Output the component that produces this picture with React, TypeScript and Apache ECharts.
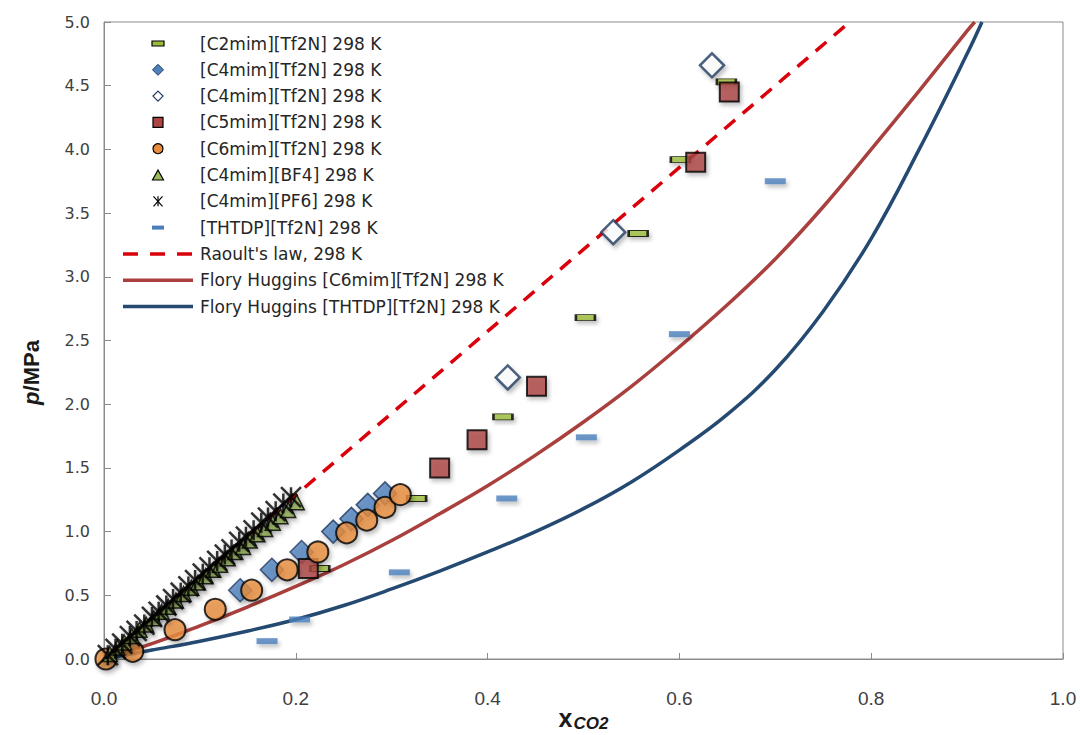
import React, { useEffect, useRef } from "react";
import * as echarts from "echarts";

// ---- measured solubility data (x = CO2 mole fraction, p in MPa) ----
const c2mimX = [0.225, 0.326, 0.416, 0.502, 0.557, 0.601, 0.649];
const c2mimP = [0.71, 1.26, 1.9, 2.68, 3.34, 3.92, 4.53];

const c4mimTf2nX = [0.142, 0.175, 0.206, 0.239, 0.258, 0.275, 0.293];
const c4mimTf2nP = [0.54, 0.7, 0.84, 1.0, 1.1, 1.21, 1.3];

const c4mimTf2nOpenX = [0.421, 0.531, 0.634];
const c4mimTf2nOpenP = [2.21, 3.35, 4.66];

const c5mimX = [0.213, 0.35, 0.389, 0.451, 0.617, 0.652];
const c5mimP = [0.71, 1.5, 1.72, 2.14, 3.9, 4.45];

const c6mimX = [0.002, 0.03, 0.074, 0.116, 0.154, 0.191, 0.223, 0.253, 0.274, 0.293, 0.309];
const c6mimP = [0.0, 0.06, 0.23, 0.39, 0.54, 0.7, 0.84, 0.99, 1.09, 1.19, 1.29];

const bf4X = [0.006, 0.014, 0.021, 0.029, 0.037, 0.044, 0.052, 0.06, 0.067, 0.075, 0.083, 0.091, 0.098, 0.106, 0.114, 0.121, 0.129, 0.137, 0.145, 0.152, 0.16, 0.168, 0.176, 0.184, 0.192, 0.201];
const bf4P = [0.04, 0.09, 0.13, 0.18, 0.23, 0.27, 0.32, 0.37, 0.41, 0.46, 0.51, 0.56, 0.6, 0.65, 0.7, 0.74, 0.79, 0.84, 0.88, 0.93, 0.98, 1.02, 1.07, 1.12, 1.17, 1.23];

const pf6X = [0.004, 0.012, 0.019, 0.027, 0.034, 0.042, 0.05, 0.057, 0.065, 0.072, 0.08, 0.088, 0.095, 0.103, 0.11, 0.118, 0.126, 0.133, 0.141, 0.148, 0.156, 0.164, 0.171, 0.179, 0.187, 0.195];
const pf6P = [0.03, 0.08, 0.12, 0.18, 0.22, 0.27, 0.33, 0.37, 0.42, 0.47, 0.52, 0.57, 0.62, 0.67, 0.72, 0.77, 0.82, 0.86, 0.92, 0.96, 1.01, 1.07, 1.11, 1.16, 1.22, 1.27];

const thtdpX = [0.17, 0.204, 0.308, 0.42, 0.503, 0.6, 0.7];
const thtdpP = [0.14, 0.31, 0.68, 1.26, 1.74, 2.55, 3.75];

// ---- model curves ----
const raoultX = [0, 0.7776];
const raoultP = [0, 5.0];

const fhC6X = [0, 0.05, 0.1, 0.15, 0.2, 0.25, 0.3, 0.35, 0.4, 0.45, 0.5, 0.55, 0.6, 0.65, 0.7, 0.75, 0.8, 0.85, 0.9, 0.908];
const fhC6P = [0, 0.12, 0.26, 0.41, 0.57, 0.74, 0.93, 1.14, 1.36, 1.6, 1.86, 2.14, 2.45, 2.78, 3.14, 3.55, 4.0, 4.46, 4.93, 5.0];

const fhThX = [0, 0.05, 0.1, 0.15, 0.2, 0.25, 0.3, 0.35, 0.4, 0.45, 0.5, 0.55, 0.6, 0.65, 0.7, 0.75, 0.8, 0.85, 0.9, 0.9155];
const fhThP = [0, 0.07, 0.14, 0.22, 0.31, 0.42, 0.55, 0.69, 0.84, 1.0, 1.18, 1.39, 1.64, 1.92, 2.27, 2.73, 3.3, 4.0, 4.75, 5.0];

// ---- axis ticks ----
const xTicks = [0, 0.2, 0.4, 0.6, 0.8, 1.0];
const yTicks = [0, 0.5, 1.0, 1.5, 2.0, 2.5, 3.0, 3.5, 4.0, 4.5, 5.0];

const names = [
  "[C2mim][Tf2N] 298 K",
  "[C4mim][Tf2N] 298 K",
  "[C4mim][Tf2N] 298 K",
  "[C5mim][Tf2N] 298 K",
  "[C6mim][Tf2N] 298 K",
  "[C4mim][BF4] 298 K",
  "[C4mim][PF6] 298 K",
  "[THTDP][Tf2N] 298 K",
  "Raoult's law, 298 K",
  "Flory Huggins [C6mim][Tf2N] 298 K",
  "Flory Huggins [THTDP][Tf2N] 298 K",
];

const COLORS = {
  c2: "#9bbb3a",
  c4: "#4f81bd",
  c4edge: "#1f3a5f",
  c5: "#ac4543",
  c6: "#e98d3d",
  bf4: "#9bbb59",
  thtdp: "#4a7ebb",
  raoult: "#d9000b",
  fhC6: "#a9403e",
  fhTh: "#254a72",
};

const zip = (xs: number[], ys: number[]) => xs.map((x, i) => [x, ys[i]]);

const dashPath = "path://M0,0H20V6H0Z";
const starPath = "path://M5,0V10M0,0L10,10M0,10L10,0";

const shadow = {
  shadowBlur: 4,
  shadowOffsetX: 2,
  shadowOffsetY: 3,
  shadowColor: "rgba(0,0,0,0.3)",
};

// Hand-built legend block (icon column centred at x = 158, text from x = 200)
function legendGraphics() {
  const els: any[] = [];
  const cx = 158;
  const top = 43.5;
  const step = 26.3;
  names.forEach((label, i) => {
    const cy = top + i * step;
    let icon: any[] = [];
    switch (i) {
      case 0:
        icon = [{ type: "rect", shape: { x: cx - 6, y: cy - 2.5, width: 12, height: 5 }, style: { fill: COLORS.c2, stroke: "#000", lineWidth: 1.2 } }];
        break;
      case 1:
        icon = [{ type: "polygon", shape: { points: [[cx, cy - 5.5], [cx + 5.5, cy], [cx, cy + 5.5], [cx - 5.5, cy]] }, style: { fill: COLORS.c4, stroke: COLORS.c4edge, lineWidth: 1 } }];
        break;
      case 2:
        icon = [{ type: "polygon", shape: { points: [[cx, cy - 5], [cx + 5, cy], [cx, cy + 5], [cx - 5, cy]] }, style: { fill: "#fff", stroke: COLORS.c4edge, lineWidth: 1.2 } }];
        break;
      case 3:
        icon = [{ type: "rect", shape: { x: cx - 5, y: cy - 5, width: 10, height: 10 }, style: { fill: COLORS.c5, stroke: "#000", lineWidth: 1.2 } }];
        break;
      case 4:
        icon = [{ type: "circle", shape: { cx, cy, r: 5 }, style: { fill: COLORS.c6, stroke: "#000", lineWidth: 1.2 } }];
        break;
      case 5:
        icon = [{ type: "polygon", shape: { points: [[cx, cy - 5], [cx + 5.5, cy + 5], [cx - 5.5, cy + 5]] }, style: { fill: COLORS.bf4, stroke: "#000", lineWidth: 1.2 } }];
        break;
      case 6:
        icon = [
          { type: "line", shape: { x1: cx, y1: cy - 5, x2: cx, y2: cy + 5 }, style: { stroke: "#000", lineWidth: 1.2 } },
          { type: "line", shape: { x1: cx - 4.5, y1: cy - 5, x2: cx + 4.5, y2: cy + 5 }, style: { stroke: "#000", lineWidth: 1.2 } },
          { type: "line", shape: { x1: cx - 4.5, y1: cy + 5, x2: cx + 4.5, y2: cy - 5 }, style: { stroke: "#000", lineWidth: 1.2 } },
        ];
        break;
      case 7:
        icon = [{ type: "rect", shape: { x: cx - 6, y: cy - 2, width: 12, height: 4 }, style: { fill: COLORS.thtdp } }];
        break;
      case 8:
        icon = [{ type: "line", shape: { x1: 123, y1: cy, x2: 193, y2: cy }, style: { stroke: COLORS.raoult, lineWidth: 3.5, lineDash: [15, 12] } }];
        break;
      case 9:
        icon = [{ type: "line", shape: { x1: 123, y1: cy, x2: 193, y2: cy }, style: { stroke: COLORS.fhC6, lineWidth: 3.5 } }];
        break;
      default:
        icon = [{ type: "line", shape: { x1: 123, y1: cy, x2: 193, y2: cy }, style: { stroke: COLORS.fhTh, lineWidth: 3.5 } }];
    }
    els.push(...icon.map((e) => ({ ...e, z: 20, silent: true })));
    els.push({
      type: "text",
      z: 20,
      silent: true,
      x: 200,
      y: cy,
      style: {
        text: label,
        font: "17px 'DejaVu Sans'",
        fill: "#262626",
        align: "left",
        verticalAlign: "middle",
        textAlign: "left",
        textVerticalAlign: "middle",
      },
    });
  });
  return els;
}

export default function App() {
  const ref = useRef<HTMLDivElement>(null);

  useEffect(() => {
    if (!ref.current) return;
    const chart = echarts.init(ref.current, undefined, { renderer: "svg" });

    const scatter = (
      name: string,
      xs: number[],
      ys: number[],
      symbol: string,
      size: number | number[],
      itemStyle: any
    ) => ({
      name,
      type: "scatter",
      data: zip(xs, ys),
      symbol,
      symbolSize: size,
      z: 3,
      itemStyle: { ...shadow, ...itemStyle },
      emphasis: { disabled: true },
    });

    const curve = (name: string, xs: number[], ys: number[], color: string, type: any) => ({
      name,
      type: "line",
      data: zip(xs, ys),
      showSymbol: false,
      symbol: "none",
      smooth: type === "solid" ? 0.4 : false,
      z: 2,
      lineStyle: { color, width: 3.5, type },
      itemStyle: { color },
      emphasis: { disabled: true },
    });

    const option: any = {
      animation: false,
      backgroundColor: "#ffffff",
      grid: {
        left: 104,
        right: 17,
        top: 22,
        bottom: 76,
        show: true,
        borderColor: "#8c8c8c",
        borderWidth: 1,
        outerBoundsMode: "none",
      },
      graphic: legendGraphics(),
      xAxis: {
        type: "value",
        min: 0,
        max: 1,
        interval: 0.2,
        name: "{a|x}{b|CO2}",
        nameLocation: "middle",
        nameGap: 44,
        nameMoveOverlap: false,
        nameTextStyle: {
          rich: {
            a: { fontFamily: "Liberation Sans", fontSize: 25, fontWeight: "bold", color: "#1a1a1a" },
            b: {
              fontFamily: "Liberation Sans",
              fontSize: 17,
              fontWeight: "bold",
              fontStyle: "italic",
              color: "#1a1a1a",
              padding: [12, 0, 0, 1],
            },
          },
        },
        axisLine: { lineStyle: { color: "#8c8c8c", width: 1 } },
        axisTick: { inside: true, length: 6, lineStyle: { color: "#8c8c8c" } },
        splitLine: { show: false },
        axisLabel: {
          margin: 30,
          fontFamily: "'Liberation Sans Narrow', 'Liberation Sans'",
          fontSize: 19,
          color: "#404040",
          formatter: (v: number) => (xTicks.includes(Number(v.toFixed(1))) ? v.toFixed(1) : ""),
        },
      },
      yAxis: {
        type: "value",
        min: 0,
        max: 5,
        interval: 0.5,
        name: "{p|p}{u|/MPa}",
        nameLocation: "middle",
        nameGap: 62,
        nameRotate: 90,
        nameMoveOverlap: false,
        nameTextStyle: {
          padding: [0, 64, 0, 0],
          rich: {
            p: { fontFamily: "Liberation Sans", fontSize: 22, fontWeight: "bold", fontStyle: "italic", color: "#1a1a1a" },
            u: { fontFamily: "Liberation Sans", fontSize: 22, fontWeight: "bold", color: "#1a1a1a" },
          },
        },
        axisLine: { show: true, lineStyle: { color: "#8c8c8c", width: 1 } },
        axisTick: { show: true, inside: true, length: 7, lineStyle: { color: "#8c8c8c" } },
        splitLine: { show: false },
        axisLabel: {
          margin: 14,
          fontFamily: "DejaVu Sans",
          fontSize: 16,
          color: "#404040",
          formatter: (v: number) => (yTicks.includes(Number(v.toFixed(1))) ? v.toFixed(1) : ""),
        },
      },
      series: [
        curve(names[8], raoultX, raoultP, COLORS.raoult, [14, 10]),
        curve(names[9], fhC6X, fhC6P, COLORS.fhC6, "solid"),
        curve(names[10], fhThX, fhThP, COLORS.fhTh, "solid"),
        scatter(names[0], c2mimX, c2mimP, dashPath, [19, 6], {
          color: COLORS.c2,
          borderColor: "#000",
          borderWidth: 1.5,
        }),
        scatter(names[1], c4mimTf2nX, c4mimTf2nP, "diamond", 23, {
          color: COLORS.c4,
          borderColor: COLORS.c4edge,
          borderWidth: 1.5,
        }),
        scatter(names[2], c4mimTf2nOpenX, c4mimTf2nOpenP, "diamond", 24, {
          color: "#ffffff",
          borderColor: COLORS.c4edge,
          borderWidth: 2.5,
        }),
        scatter(names[3], c5mimX, c5mimP, "rect", 19, {
          color: COLORS.c5,
          borderColor: "#000",
          borderWidth: 2,
        }),
        scatter(names[4], c6mimX, c6mimP, "circle", 21, {
          color: COLORS.c6,
          borderColor: "#000",
          borderWidth: 2,
        }),
        scatter(names[5], bf4X, bf4P, "triangle", 15, {
          color: COLORS.bf4,
          borderColor: "#000",
          borderWidth: 1.5,
        }),
        scatter(names[6], pf6X, pf6P, starPath, 20, {
          color: "#000",
          borderColor: "#000",
          borderWidth: 2.5,
        }),
        scatter(names[7], thtdpX, thtdpP, dashPath, [21, 6], {
          color: COLORS.thtdp,
          borderWidth: 0,
        }),
      ],
    };

    chart.setOption(option);
    return () => chart.dispose();
  }, []);

  return (
    <div
      ref={ref}
      style={{ position: "fixed", left: 0, top: 0, width: 1080, height: 735, background: "#fff" }}
    />
  );
}
